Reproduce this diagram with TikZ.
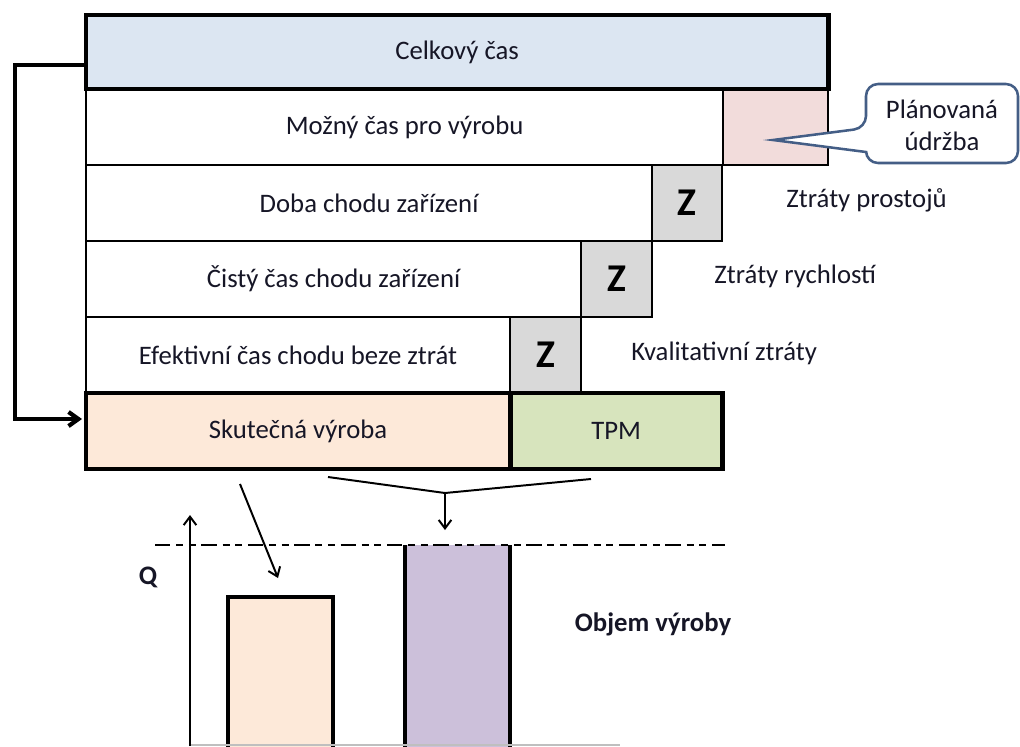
\documentclass[tikz,border=0pt]{standalone}
\usepackage{fontspec}
\setmainfont{Carlito}
\usetikzlibrary{positioning, arrows.meta}
\definecolor{celkfill}{RGB}{220,230,242}
\definecolor{udrzfill}{RGB}{242,220,219}
\definecolor{ztratfill}{RGB}{217,217,217}
\definecolor{skutfill}{RGB}{253,233,217}
\definecolor{tpmfill}{RGB}{215,228,189}
\definecolor{objemfill}{RGB}{204,192,218}
\definecolor{callline}{RGB}{68,94,134}
\definecolor{textc}{RGB}{22,22,38}

\begin{document}
\begin{tikzpicture}[
    x=0.025cm, y=-0.025cm,
    rowbox/.style={draw=black, line width=1.1pt, fill=white, anchor=north west, outer sep=0pt, inner sep=0pt, minimum height=1.9cm, font=\fontsize{19}{22}\selectfont, text=textc},
    thickbox/.style={rowbox, line width=3.5pt},
    zbox/.style={rowbox, fill=ztratfill, font=\fontsize{28}{30}\selectfont\bfseries, text=black},
    losslabel/.style={inner sep=0pt, anchor=west, font=\fontsize{19}{22}\selectfont, text=textc},
    calltext/.style={align=center, inner sep=0pt, font=\fontsize{19}{23}\selectfont, text=textc},
    callout/.style={draw=callline, line width=1.8pt, fill=white},
    feed/.style={line width=3pt, -{Straight Barb[length=7pt, width=10pt]}},
    thinline/.style={line width=1.4pt},
    thinarrow/.style={thinline, -{Straight Barb[length=6pt, width=9pt]}},
    barbox/.style={draw=black, line width=3pt, anchor=north west, outer sep=0pt, minimum width=2.625cm},
    boldlabel/.style={font=\fontsize{19}{22}\selectfont\bfseries, text=textc}
]
\clip (0,0) rectangle (1020,746);

% ---------- rows ----------
\node[rowbox, minimum width=15.925cm] (mozny) at (86,89) {Možný čas pro výrobu};
\node[rowbox, fill=udrzfill, minimum width=2.625cm, right=0pt of mozny] (udrzbabox) {};
\node[rowbox, minimum width=14.15cm] (doba) at (86,165) {Doba chodu zařízení};
\node[zbox, minimum width=1.75cm, right=0pt of doba] (z1) {Z};
\node[rowbox, minimum width=12.375cm] (cisty) at (86,241) {Čistý čas chodu zařízení};
\node[zbox, minimum width=1.775cm, right=0pt of cisty] (z2) {Z};
\node[rowbox, minimum width=10.6cm] (efekt) at (86,317) {Efektivní čas chodu beze ztrát};
\node[zbox, minimum width=1.775cm, right=0pt of efekt] (z3) {Z};

% ---------- thick boxes ----------
\node[thickbox, fill=celkfill, minimum width=18.55cm, minimum height=1.85cm] (celkovy) at (86,15) {Celkový čas};
\node[thickbox, fill=skutfill, minimum width=10.6cm] (skutecna) at (86,393) {Skutečná výroba};
\node[thickbox, fill=tpmfill, minimum width=5.3cm, right=0pt of skutecna] (tpm) {TPM};

% ---------- losses ----------
\node[losslabel, right=1.6cm of z1, yshift=2pt] (prostoje) {Ztráty prostojů};
\node[losslabel, right=1.55cm of z2, yshift=2pt] (rychlost) {Ztráty rychlostí};
\node[losslabel, right=1.25cm of z3, yshift=1pt] (kvalita) {Kvalitativní ztráty};

% ---------- callout ----------
\draw[callout] (773,140) -- (866,152) [rounded corners=0.3cm] -- (866,163) -- (1018,163) -- (1018,84) -- (866,84) -- (866,128) [sharp corners] -- cycle;
\node[calltext] (udrzba) at (942,125) {Plánovaná\\údržba};

% ---------- feedback ----------
\draw[feed] ([yshift=-0.325cm]celkovy.west) -- ++(-71,0) |- ([xshift=-0.1cm, yshift=0.3cm]skutecna.west);

% ---------- volume chart ----------
\node[barbox, fill=skutfill, minimum height=4.1cm] (skutbar) at (228,597) {};
\node[barbox, draw=none, fill=objemfill, minimum height=5.4cm] (tpmbar) at (405,545) {};
\draw[line width=3pt] (tpmbar.north west) -- (tpmbar.south west) (tpmbar.north east) -- (tpmbar.south east);
\draw[line width=1pt, dash pattern=on 11pt off 4pt on 5pt off 4pt on 5pt off 4pt] (155,545) -- (725,545);
\draw[gray!50, line width=1pt] (190,745) -- (620,745);
\draw[thinarrow] (190,746) -- (190,515);
\node[boldlabel] (q) at (148,577) {Q};
\node[boldlabel] (objem) at (653,624) {Objem výroby};

\coordinate (skA) at (240,484);
\coordinate (skB) at (278,578);
\draw[thinarrow] (skA) -- (skB);
\coordinate (brL) at (328,477);
\coordinate (brM) at (445,493);
\coordinate (brR) at (591,479);
\coordinate (brEnd) at (445,530);
\draw[thinline] (brL) -- (brM) -- (brR);
\draw[thinarrow] (brM) -- (brEnd);

\end{tikzpicture}
\end{document}
